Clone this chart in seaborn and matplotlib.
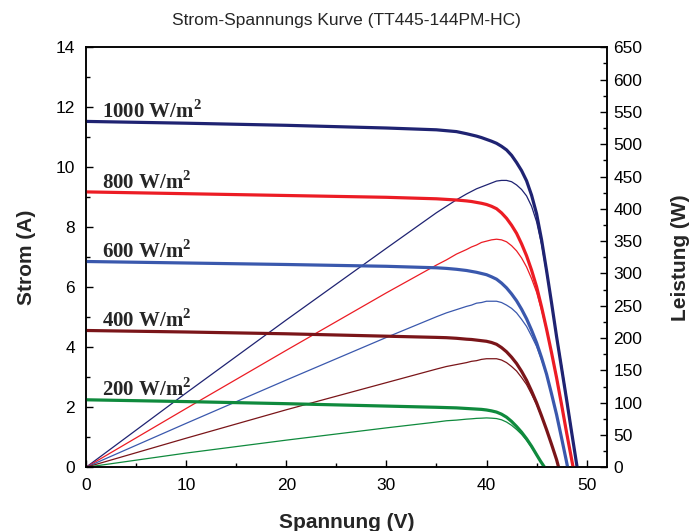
import matplotlib
matplotlib.use('Agg')
import pandas as pd
import matplotlib.pyplot as plt
import seaborn as sns
from matplotlib.ticker import MultipleLocator

irradiance = ['1000', '800', '600', '400', '200']

v_1000 = [0, 10, 20, 30, 35, 36, 37, 38, 38.5, 39, 39.5, 40, 40.5, 41, 41.5, 42, 42.5,
          43, 43.5, 44, 44.5, 45, 45.5, 46, 46.5, 47, 47.5, 48, 48.5, 49.05]
i_1000 = [11.53, 11.47, 11.40, 11.31, 11.25, 11.22, 11.19, 11.12, 11.08, 11.04, 10.99,
          10.93, 10.87, 10.80, 10.70, 10.58, 10.40, 10.16, 9.89, 9.55, 9.07, 8.45, 7.58,
          6.55, 5.47, 4.35, 3.30, 2.25, 1.17, 0]
p_1000 = [0, 115, 228, 339, 394, 404, 414, 423, 427, 431, 434, 437, 440, 443, 444, 444,
          442, 437, 430, 420, 404, 380, 345, 301, 254, 204, 157, 108, 57, 0]

v_800 = [0, 10, 20, 30, 35, 36, 37, 38, 38.5, 39, 39.5, 40, 40.5, 41, 41.5, 42, 42.5,
         43, 43.5, 44, 44.5, 45, 45.5, 46, 46.5, 47, 47.5, 48, 48.65]
i_800 = [9.18, 9.12, 9.06, 9.00, 8.95, 8.93, 8.91, 8.88, 8.86, 8.83, 8.80, 8.76, 8.70,
         8.62, 8.48, 8.30, 8.07, 7.80, 7.45, 7.05, 6.57, 6.02, 5.34, 4.60, 3.81, 2.98,
         2.08, 1.15, 0]
p_800 = [0, 91, 181, 270, 313, 321, 330, 337, 341, 344, 348, 350, 352, 353, 352, 349,
         343, 335, 324, 310, 292, 271, 243, 212, 177, 140, 99, 55, 0]

v_600 = [0, 10, 20, 30, 35, 36, 37, 38, 38.5, 39, 39.5, 40, 40.5, 41, 41.5, 42, 42.5,
         43, 43.5, 44, 44.5, 45, 45.5, 46, 46.5, 47, 47.5, 48, 48.1]
i_600 = [6.86, 6.81, 6.76, 6.70, 6.65, 6.63, 6.60, 6.56, 6.53, 6.50, 6.46, 6.42, 6.35,
         6.27, 6.14, 5.98, 5.78, 5.55, 5.27, 4.95, 4.57, 4.15, 3.65, 3.10, 2.44, 1.75,
         0.97, 0.17, 0]
p_600 = [0, 68, 135, 201, 233, 239, 244, 249, 251, 254, 255, 257, 257, 257, 255, 251,
         246, 239, 229, 218, 203, 187, 166, 143, 113, 82, 46, 8, 0]

v_400 = [0, 10, 20, 30, 35, 36, 37, 38, 38.5, 39, 39.5, 40, 40.5, 41, 41.5, 42, 42.5,
         43, 43.5, 44, 44.5, 45, 45.5, 46, 46.5, 47, 47.2]
i_400 = [4.56, 4.51, 4.45, 4.37, 4.33, 4.32, 4.30, 4.27, 4.26, 4.24, 4.22, 4.20, 4.16,
         4.10, 3.99, 3.85, 3.67, 3.46, 3.20, 2.90, 2.54, 2.15, 1.71, 1.25, 0.76, 0.25, 0]
p_400 = [0, 45, 89, 131, 152, 156, 159, 162, 164, 165, 167, 168, 168, 168, 166, 162,
         156, 149, 139, 128, 113, 97, 78, 58, 35, 12, 0]

v_200 = [0, 10, 20, 30, 35, 36, 37, 38, 38.5, 39, 39.5, 40, 40.5, 41, 41.5, 42, 42.5,
         43, 43.5, 44, 44.5, 45, 45.4, 45.8]
i_200 = [2.25, 2.19, 2.12, 2.04, 2.00, 1.99, 1.98, 1.96, 1.95, 1.94, 1.93, 1.91, 1.88,
         1.84, 1.77, 1.67, 1.53, 1.36, 1.17, 0.95, 0.70, 0.42, 0.20, 0]
p_200 = [0, 22, 42, 61, 70, 72, 73, 74.5, 75, 75.7, 76, 76.4, 76, 75.4, 73.5, 70, 65,
         58.5, 51, 41.8, 31, 18.9, 9, 0]

colors = {'1000': '#1f2372', '800': '#ec1c24', '600': '#3a58ad',
          '400': '#7a1519', '200': '#0f8a3d'}

series = {
    '1000': (v_1000, i_1000, p_1000),
    '800': (v_800, i_800, p_800),
    '600': (v_600, i_600, p_600),
    '400': (v_400, i_400, p_400),
    '200': (v_200, i_200, p_200),
}

frames = []
for g in irradiance:
    v, i, p = series[g]
    frames.append(pd.DataFrame({'G': g, 'V': v, 'I': i, 'P': p}))
df = pd.concat(frames, ignore_index=True)

sns.set_style('ticks', {'xtick.direction': 'in', 'ytick.direction': 'in'})
plt.rcParams['font.family'] = ['Liberation Sans', 'DejaVu Sans']
plt.rcParams['mathtext.fontset'] = 'custom'
plt.rcParams['mathtext.rm'] = 'Liberation Serif:bold'
plt.rcParams['mathtext.bf'] = 'Liberation Serif:bold'
plt.rcParams['axes.linewidth'] = 1.1

fig = plt.figure(figsize=(6.97, 5.31), dpi=100)
ax = fig.add_axes([0.1234, 0.1200, 0.7470, 0.7909])
ax2 = ax.twinx()

sns.lineplot(data=df, x='V', y='P', hue='G', palette=colors, linewidth=0.9,
             estimator=None, sort=False, legend=False, ax=ax2)
sns.lineplot(data=df, x='V', y='I', hue='G', palette=colors, linewidth=2.3,
             estimator=None, sort=False, legend=False, ax=ax)

ax.set_zorder(ax2.get_zorder() + 1)
ax.patch.set_visible(False)

ax.set_xlim(0, 52)
ax.set_ylim(0, 14)
ax2.set_ylim(0, 650)

ax.xaxis.set_major_locator(MultipleLocator(10))
ax.xaxis.set_minor_locator(MultipleLocator(5))
ax.yaxis.set_major_locator(MultipleLocator(2))
ax.yaxis.set_minor_locator(MultipleLocator(1))
ax2.yaxis.set_major_locator(MultipleLocator(50))
ax2.yaxis.set_minor_locator(MultipleLocator(25))

ax.tick_params(which='both', direction='in', top=False, right=False, colors='black',
               width=1.0, labelsize=12.5)
ax.tick_params(which='major', length=5, pad=8)
ax.tick_params(which='minor', length=3)
ax2.tick_params(which='both', direction='in', colors='black', width=1.0, labelsize=12.5)
ax2.tick_params(which='major', length=5, pad=5)
ax2.tick_params(which='minor', length=3)

for a in (ax, ax2):
    for s in a.spines.values():
        s.set_color('black')
        s.set_linewidth(1.1)

ax.set_xlabel('Spannung (V)', fontsize=15, fontweight='bold', labelpad=14)
ax.set_ylabel('Strom (A)', fontsize=15, fontweight='bold', labelpad=14)
ax2.set_ylabel('Leistung (W)', fontsize=15, fontweight='bold', labelpad=20)
ax.set_title('Strom-Spannungs Kurve (TT445-144PM-HC)', fontsize=12.5, pad=16)

for g in irradiance:
    isc = series[g][1][0]
    ax.text(1.6, isc + 0.12, g + r' W/m$^{2}$', fontsize=15, fontweight='bold',
            family='Liberation Serif', ha='left', va='baseline')

fig.savefig('out.png', dpi=100)
